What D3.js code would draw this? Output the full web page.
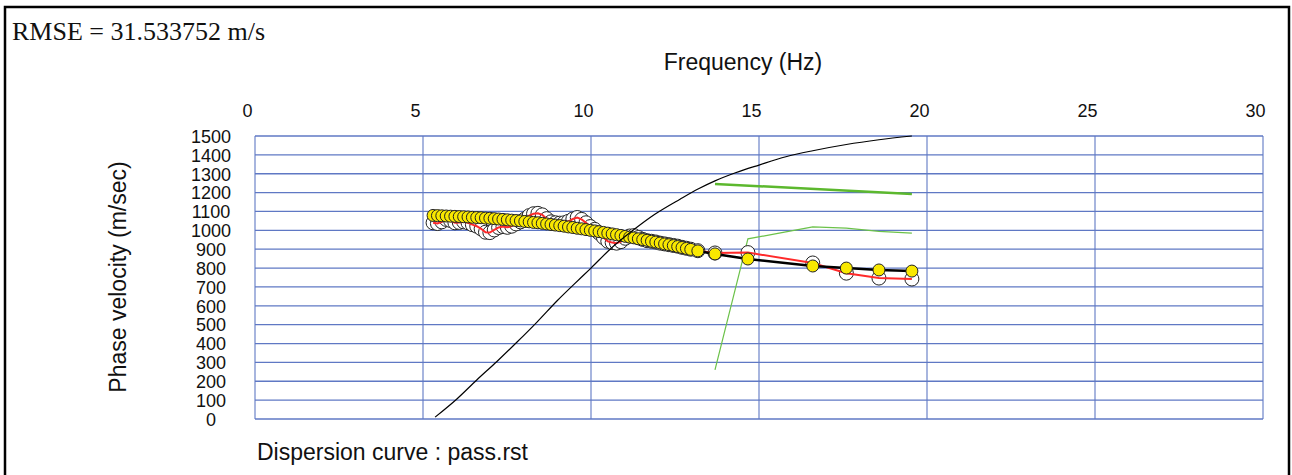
<!DOCTYPE html>
<html>
<head>
<meta charset="utf-8">
<script src="https://cdn.jsdelivr.net/npm/d3@7"></script>
<style>
  body { margin: 0; background: #fff; }
  svg text { font-family: Arial, "Liberation Sans", sans-serif; fill: #111; }
</style>
</head>
<body>
<div id="chart"></div>
<script>
// tick values
const xTicks = [0, 5, 10, 15, 20, 25, 30];
const yTicks = [0, 100, 200, 300, 400, 500, 600, 700, 800, 900, 1000, 1100, 1200, 1300, 1400, 1500];

// frequencies of picked / fitted points (Hz)
const freqs = [5.30, 5.43, 5.56, 5.69, 5.82, 5.95, 6.08, 6.21, 6.34, 6.47, 6.60, 6.73, 6.86, 6.99, 7.12,
  7.25, 7.38, 7.51, 7.64, 7.77, 7.90, 8.03, 8.16, 8.29, 8.42, 8.55, 8.68, 8.81, 8.94, 9.07, 9.20, 9.33,
  9.46, 9.59, 9.72, 9.85, 9.98, 10.11, 10.24, 10.37, 10.50, 10.63, 10.76, 10.89, 11.02, 11.15, 11.28,
  11.41, 11.54, 11.67, 11.80, 11.93, 12.06, 12.19, 12.32, 12.45, 12.58, 12.71, 12.84, 12.97, 13.18,
  13.69, 14.67, 16.60, 17.60, 18.57, 19.55];

// observed phase velocity (red line, open circles)
const observed = [1040, 1036, 1045, 1058, 1052, 1040, 1042, 1045, 1040, 1030, 1022, 1008, 990, 988, 1002,
  1015, 1020, 1016, 1022, 1034, 1045, 1060, 1078, 1088, 1090, 1082, 1062, 1045, 1040, 1038, 1040, 1048,
  1060, 1068, 1058, 1040, 1020, 1005, 985, 962, 942, 935, 932, 940, 958, 970, 972,
  962, 952, 945, 942, 938, 932, 928, 924, 920, 916, 910, 905, 900, 892,
  880, 882, 827, 773, 747, 742];

// fitted phase velocity (black line, yellow dots)
const fitted = [1079, 1078, 1077, 1076, 1075, 1074, 1073, 1072, 1071, 1069, 1068, 1067, 1065, 1064, 1062,
  1060, 1058, 1056, 1054, 1052, 1050, 1047, 1045, 1042, 1040, 1037, 1034, 1031, 1028, 1025, 1022, 1018,
  1015, 1011, 1008, 1004, 1000, 997, 993, 989, 985, 981, 977, 973, 968, 964, 960,
  955, 951, 947, 942, 938, 933, 928, 924, 919, 914, 909, 904, 899, 891,
  875, 848, 811, 800, 790, 784];

// theoretical curves
const curveBlackF = [5.36, 6.0, 6.6, 7.2, 7.8, 8.4, 9.0, 9.5, 10.0, 10.6, 11.25, 11.9, 12.65, 13.2, 13.69, 14.3, 15.0, 15.8, 16.6, 17.6, 18.57, 19.55];
const curveBlackV = [10, 105, 207, 305, 408, 515, 628, 715, 800, 905, 1000, 1085, 1165, 1220, 1262, 1305, 1346, 1390, 1422, 1455, 1480, 1500];
const greenThickF = [13.69, 19.55];
const greenThickV = [1246, 1193];
const greenThinF = [13.69, 14.67, 15.6, 16.6, 17.6, 18.57, 19.55];
const greenThinV = [260, 955, 985, 1018, 1012, 995, 985];

const W = 1292, H = 475;
const svg = d3.select("#chart").append("svg")
  .attr("width", W).attr("height", H);

// outer frame
svg.append("rect")
  .attr("x", 5).attr("y", 7).attr("width", 1284).attr("height", 480)
  .attr("fill", "none").attr("stroke", "#000").attr("stroke-width", 2.5);

const x = d3.scaleLinear().domain([0, 30]).range([255, 1263]);
const y = d3.scaleLinear().domain([0, 1500]).range([419, 136]);

// grid
const gridColor = "#5f78c4";
svg.append("g").selectAll("line").data(yTicks).enter().append("line")
  .attr("x1", x(0)).attr("x2", x(30))
  .attr("y1", d => y(d)).attr("y2", d => y(d))
  .attr("stroke", gridColor).attr("stroke-width", 1.3);
svg.append("g").selectAll("line").data(xTicks).enter().append("line")
  .attr("x1", d => x(d)).attr("x2", d => x(d))
  .attr("y1", y(0)).attr("y2", y(1500))
  .attr("stroke", gridColor).attr("stroke-width", 1.1);

// x axis labels (top)
const xAxis = svg.append("g")
  .attr("transform", "translate(0,117)")
  .call(d3.axisTop(x).tickValues(xTicks).tickSize(0).tickFormat(d3.format("d")));
xAxis.select(".domain").remove();
xAxis.selectAll("text")
  .attr("y", 0).attr("dy", 0).attr("dx", -8)
  .style("font-size", "18px").style("font-family", "Arial, 'Liberation Sans', sans-serif").attr("fill", "#111");

// y axis labels
const yAxis = svg.append("g")
  .attr("transform", `translate(${x(0)},0)`)
  .call(d3.axisLeft(y).tickValues(yTicks).tickSize(0).tickFormat(d3.format("d")));
yAxis.select(".domain").remove();
yAxis.selectAll("text")
  .attr("x", -44).attr("dy", "0.35em")
  .attr("text-anchor", "middle")
  .style("font-size", "18px").style("font-family", "Arial, 'Liberation Sans', sans-serif").attr("fill", "#111");

// titles
svg.append("text")
  .attr("x", 12).attr("y", 40)
  .style("font-family", "'Liberation Serif', 'Times New Roman', serif")
  .style("font-size", "26px")
  .text("RMSE = 31.533752 m/s");

svg.append("text")
  .attr("x", 743).attr("y", 70)
  .attr("text-anchor", "middle")
  .style("font-size", "23px")
  .text("Frequency (Hz)");

svg.append("text")
  .attr("transform", "rotate(-90)")
  .attr("x", -277).attr("y", 126)
  .attr("text-anchor", "middle")
  .style("font-size", "23px")
  .text("Phase velocity (m/sec)");

svg.append("text")
  .attr("x", 257).attr("y", 460)
  .style("font-size", "23px")
  .text("Dispersion curve : pass.rst");

const line = d3.line().x(d => x(d[0])).y(d => y(d[1]));
const zip = (a, b) => a.map((v, i) => [v, b[i]]);

// higher-mode curves
svg.append("path").datum(zip(greenThickF, greenThickV))
  .attr("d", line).attr("fill", "none")
  .attr("stroke", "#5cb82e").attr("stroke-width", 2.5);
svg.append("path").datum(zip(greenThinF, greenThinV))
  .attr("d", line).attr("fill", "none")
  .attr("stroke", "#6cc24a").attr("stroke-width", 1.2);

// observed: open circles + red line
const obs = zip(freqs, observed);
svg.append("g").selectAll("circle").data(obs).enter().append("circle")
  .attr("cx", d => x(d[0])).attr("cy", d => y(d[1])).attr("r", 7)
  .attr("fill", "#fff").attr("stroke", "#222").attr("stroke-width", 1);
svg.append("path").datum(obs)
  .attr("d", line).attr("fill", "none")
  .attr("stroke", "#ff2a2a").attr("stroke-width", 2);

// fitted: black line + yellow dots
const fit = zip(freqs, fitted);
svg.append("path").datum(fit)
  .attr("d", line).attr("fill", "none")
  .attr("stroke", "#000").attr("stroke-width", 2.5);
svg.append("g").selectAll("circle").data(fit).enter().append("circle")
  .attr("cx", d => x(d[0])).attr("cy", d => y(d[1])).attr("r", 6)
  .attr("fill", "#f9e800").attr("stroke", "#222").attr("stroke-width", 1);

// fundamental mode theoretical curve
svg.append("path").datum(zip(curveBlackF, curveBlackV))
  .attr("d", line.curve(d3.curveMonotoneX)).attr("fill", "none")
  .attr("stroke", "#000").attr("stroke-width", 1.2);
</script>
</body>
</html>
